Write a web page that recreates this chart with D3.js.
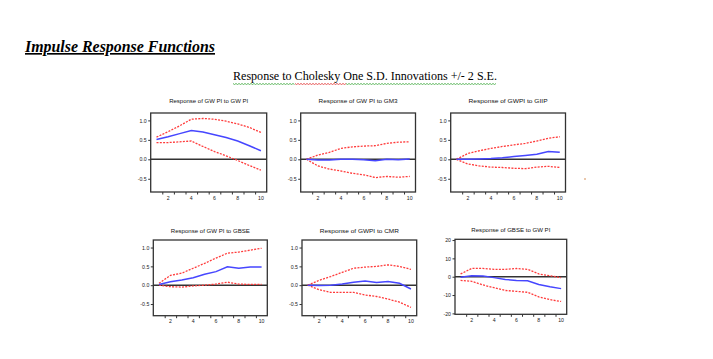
<!DOCTYPE html>
<html><head><meta charset="utf-8">
<script src="https://cdn.jsdelivr.net/npm/d3@7/dist/d3.min.js"></script>
<style>body{margin:0;background:#fff;}svg{display:block;}</style>
</head><body>
<script>
// ---------- data ----------
const steps = [1,2,3,4,5,6,7,8,9,10];
const titles = [
  "Response of GW PI to GW PI",
  "Response of GW PI to GM3",
  "Response of GWPI to GIIP",
  "Response of GW PI to GBSE",
  "Response of GWPI to CMR",
  "Response of GBSE to GW PI"
];
const resp1  = [0.51,0.58,0.66,0.74,0.70,0.63,0.56,0.47,0.35,0.22];
const upper1 = [0.57,0.71,0.86,1.03,1.05,1.03,0.98,0.91,0.82,0.69];
const lower1 = [0.43,0.43,0.45,0.47,0.33,0.20,0.09,-0.03,-0.16,-0.28];

const resp2  = [0.00,-0.02,-0.02,0.00,0.00,-0.01,-0.04,0.00,-0.01,0.01];
const upper2 = [0.00,0.11,0.18,0.28,0.32,0.34,0.35,0.41,0.44,0.45];
const lower2 = [0.00,-0.17,-0.25,-0.30,-0.36,-0.40,-0.47,-0.44,-0.46,-0.44];

const resp3  = [0.00,0.00,0.01,0.02,0.04,0.07,0.10,0.13,0.20,0.18];
const upper3 = [0.00,0.15,0.22,0.28,0.33,0.37,0.41,0.47,0.54,0.58];
const lower3 = [0.00,-0.12,-0.17,-0.20,-0.21,-0.23,-0.24,-0.20,-0.18,-0.21];

const resp4  = [0.02,0.09,0.14,0.20,0.29,0.36,0.49,0.45,0.48,0.48];
const upper4 = [0.05,0.26,0.32,0.45,0.58,0.72,0.85,0.88,0.93,0.98];
const lower4 = [0.00,-0.04,-0.05,-0.02,0.00,0.03,0.08,0.03,0.02,0.02];

const resp5  = [0.00,-0.01,0.00,0.03,0.08,0.11,0.07,0.10,0.05,-0.10];
const upper5 = [0.00,0.13,0.23,0.34,0.45,0.48,0.50,0.54,0.50,0.42];
const lower5 = [0.00,-0.12,-0.19,-0.19,-0.19,-0.26,-0.30,-0.37,-0.45,-0.59];

const resp6  = [-0.3,0.5,0.4,-0.5,-1.5,-2.0,-2.2,-4.2,-5.5,-6.5];
const upper6 = [1.5,4.5,4.5,4.0,4.0,4.5,4.0,1.5,0.5,-0.5];
const lower6 = [-2.0,-2.5,-4.5,-6.0,-7.5,-8.0,-8.5,-11.0,-12.5,-13.5];

const yTicksSmall = [1.0,0.5,0.0,-0.5];
const yTickLabelsSmall = ["1.0","0.5","0.0","-0.5"];
const yTicksLarge = [20,10,0,-10,-20];
const yTickLabelsLarge = ["20","10","0","-10","-20"];
const xTickLabels = [2,4,6,8,10];
const xMinorTicks = [1.5,2.5,3.5,4.5,5.5,6.5,7.5,8.5,9.5];

const heading = "Impulse Response Functions";
const subtitle = "Response to Cholesky One S.D. Innovations +/- 2 S.E.";

// ---------- layout ----------
const W = 713, H = 359;
const svg = d3.select("body").append("svg").attr("width", W).attr("height", H);

const panels = [
  {resp:resp1, up:upper1, lo:lower1, box:[150.7,266.7,113,192], dom:[-0.84,1.19], yt:yTicksSmall, yl:yTickLabelsSmall, ty:103},
  {resp:resp2, up:upper2, lo:lower2, box:[300.7,415.5,113,192], dom:[-0.84,1.19], yt:yTicksSmall, yl:yTickLabelsSmall, ty:103},
  {resp:resp3, up:upper3, lo:lower3, box:[450.7,565.5,113,192], dom:[-0.84,1.19], yt:yTicksSmall, yl:yTickLabelsSmall, ty:103},
  {resp:resp4, up:upper4, lo:lower4, box:[153.3,267.3,240,315.7], dom:[-0.81,1.2], yt:yTicksSmall, yl:yTickLabelsSmall, ty:233},
  {resp:resp5, up:upper5, lo:lower5, box:[302,416.7,240,315.7], dom:[-0.81,1.2], yt:yTicksSmall, yl:yTickLabelsSmall, ty:233},
  {resp:resp6, up:upper6, lo:lower6, box:[455,566.7,239.3,314.3], dom:[-20.5,20.4], yt:yTicksLarge, yl:yTickLabelsLarge, ty:232}
];

// heading
svg.append("text").attr("x", 25).attr("y", 52)
  .attr("font-family", "Liberation Serif, Times New Roman, serif")
  .attr("font-size", 16.5).attr("font-weight", "bold").attr("font-style", "italic")
  .attr("text-decoration", "underline").attr("fill", "#000")
  .attr("textLength", 190).attr("lengthAdjust", "spacingAndGlyphs")
  .text(heading);

svg.append("text").attr("x", 233).attr("y", 80)
  .attr("font-family", "Liberation Serif, Times New Roman, serif")
  .attr("font-size", 13).attr("fill", "#000")
  .attr("textLength", 264).attr("lengthAdjust", "spacingAndGlyphs")
  .text(subtitle);

// spell-check wavy underlines
function wavy(x0, x1, y, color) {
  const pts = [];
  for (let x = x0, i = 0; x <= x1; x += 1.5, i++) pts.push([x, y + (i % 2 ? 1 : 0)]);
  svg.append("path").attr("d", d3.line()(pts)).attr("fill", "none")
    .attr("stroke", color).attr("stroke-width", 0.8);
}
wavy(233, 295, 83.5, "#3aa63a");
wavy(295, 346, 83.5, "#e03030");
wavy(346, 497, 83.5, "#3aa63a");

// stray mark
svg.append("circle").attr("cx", 585).attr("cy", 179).attr("r", 0.8).attr("fill", "#d08040");

panels.forEach((p, i) => {
  const [x0, x1, y0, y1] = p.box;
  const x = d3.scaleLinear().domain([0.5, 10.5]).range([x0, x1]);
  const y = d3.scaleLinear().domain(p.dom).range([y1, y0]);
  const g = svg.append("g");

  // title
  g.append("text").attr("x", (x0 + x1) / 2).attr("y", p.ty)
    .attr("text-anchor", "middle")
    .attr("font-family", "Liberation Sans, Arial, sans-serif")
    .attr("font-size", 6).attr("fill", "#111")
    .attr("textLength", 79).attr("lengthAdjust", "spacingAndGlyphs")
    .text(titles[i]);

  // zero line
  g.append("line").attr("x1", x0).attr("x2", x1)
    .attr("y1", y(0)).attr("y2", y(0))
    .attr("stroke", "#333").attr("stroke-width", 1.4);

  const line = d3.line().x((d, k) => x(steps[k])).y(d => y(d));
  g.append("path").attr("d", line(p.up)).attr("fill", "none")
    .attr("stroke", "#ff3b3b").attr("stroke-width", 1.3).attr("stroke-dasharray", "2,1.3");
  g.append("path").attr("d", line(p.lo)).attr("fill", "none")
    .attr("stroke", "#ff3b3b").attr("stroke-width", 1.3).attr("stroke-dasharray", "2,1.3");
  g.append("path").attr("d", line(p.resp)).attr("fill", "none")
    .attr("stroke", "#4646ff").attr("stroke-width", 1.5);

  // frame
  g.append("rect").attr("x", x0).attr("y", y0)
    .attr("width", x1 - x0).attr("height", y1 - y0)
    .attr("fill", "none").attr("stroke", "#333").attr("stroke-width", 1.3);

  // y axis ticks
  const ya = d3.axisLeft(y).tickValues(p.yt).tickSize(2.5).tickPadding(1.5)
    .tickFormat((d, k) => p.yl[k]);
  const yg = g.append("g").attr("transform", `translate(${x0},0)`).call(ya);
  yg.select(".domain").remove();
  yg.selectAll("line").attr("stroke", "#333");
  yg.selectAll("text").attr("font-size", 5.2).attr("font-family", "Liberation Sans, Arial, sans-serif").attr("fill", "#222");

  // x axis ticks
  const xa = d3.axisBottom(x).tickValues(xMinorTicks).tickSize(2.5).tickFormat("");
  const xg = g.append("g").attr("transform", `translate(0,${y1})`).call(xa);
  xg.select(".domain").remove();
  xg.selectAll("line").attr("stroke", "#333");
  g.selectAll(".xl").data(xTickLabels).enter().append("text")
    .attr("x", d => x(d)).attr("y", y1 + 7.5)
    .attr("text-anchor", "middle")
    .attr("font-size", 5.2).attr("font-family", "Liberation Sans, Arial, sans-serif").attr("fill", "#222")
    .text(d => d);
});
</script>
</body></html>
